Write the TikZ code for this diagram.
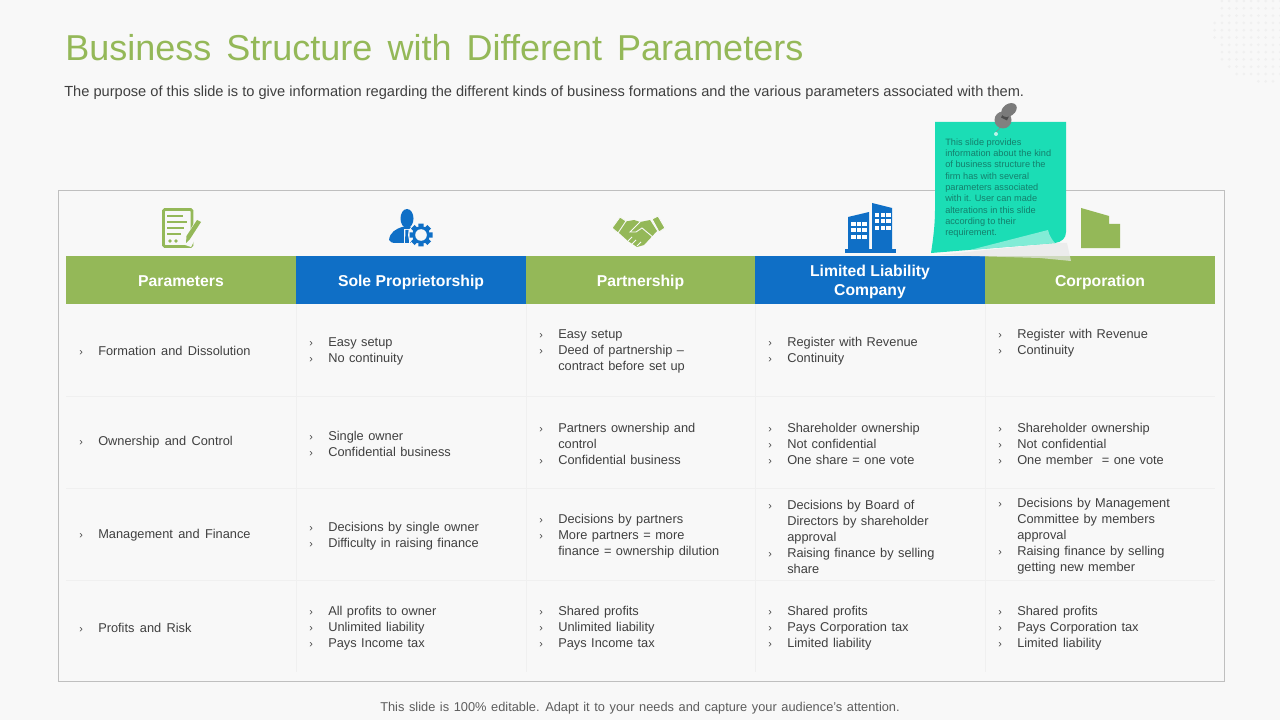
\documentclass[tikz,border=0pt]{standalone}
\usepackage{fontspec}
\setmainfont{Liberation Sans}
\usepackage{xcolor}
\usepackage{tikz}
\usetikzlibrary{calc}
\definecolor{leaf}{HTML}{94B858}
\definecolor{ocean}{HTML}{0F6FC6}
\definecolor{sticky}{HTML}{1BDDB5}
\definecolor{paper}{HTML}{F8F8F8}
\definecolor{ink}{HTML}{404040}
\definecolor{noteink}{HTML}{147F6C}
\newcommand{\bul}[1]{\makebox[14.25pt][l]{\fontsize{8}{12}\selectfont ›}#1}
\newcommand{\cont}[1]{\hspace*{14.25pt}#1}
\newcommand{\cellfont}{\fontsize{9.6}{12}\selectfont\spaceskip=.35em\relax}
\newcommand{\rowfont}{\fontsize{9.6}{12}\selectfont\spaceskip=.42em\relax}
\tikzset{
  hdrbox/.style={fill=#1, text=white, minimum width=172.5pt, minimum height=36pt, inner sep=0pt, align=center, font=\fontsize{11.8}{14.25}\selectfont\bfseries},
  hdrone/.style={hdrbox=#1, text height=9.8pt, text depth=0pt},
  cellbox/.style={anchor=west, inner sep=0pt, yshift=-1.2pt, text=ink, align=left, font=\cellfont},
  rowbox/.style={anchor=west, inner sep=0pt, yshift=-0.5pt, text=ink, align=left, font=\rowfont},
  rowline/.style={draw=black!6, line width=0.6pt},
  notetext/.style={anchor=north west, inner sep=0pt, text=noteink, align=left, font=\fontsize{6.9}{8.45}\selectfont}
}
\begin{document}
\begin{tikzpicture}[x=0.75pt, y=-0.75pt]
\fill[paper] (0,0) rectangle (1280,720);
\useasboundingbox (0,0) rectangle (1280,720);

% dots top right
\foreach \i in {0,...,9}{
  \foreach \j in {0,...,11}{
    \pgfmathsetmacro{\dd}{veclen(1214.6+7.3*\i-1266,1+7.3*\j-30)}
    \ifdim\dd pt<53pt \fill[black!6] (1214.6+7.3*\i,1+7.3*\j) circle (1.5); \fi
  }
}

% title
\node[anchor=west, inner sep=0pt, text=leaf, font=\fontsize{27}{32}\selectfont] (title) at (65,48) {\spaceskip=0.42em Business Structure with Different Parameters};
\node[anchor=west, inner sep=0pt, text=ink, font=\fontsize{10.97}{13}\selectfont] (subtitle) at (64,93) {The purpose of this slide is to give information regarding the different kinds of business formations and the various parameters associated with them.};
\node[inner sep=0pt, text=ink!85, font=\fontsize{9.6}{12}\selectfont] (footer) at (640,708) {\spaceskip=0.36em This slide is 100\% editable. Adapt it to your needs and capture your audience's attention.};

% frame
\draw[black!25, line width=0.6pt] (58,190.5) rectangle (1224,681);

% grid
\draw[rowline] (66,396) -- (1215,396);
\draw[rowline] (66,488) -- (1215,488);
\draw[rowline] (66,580) -- (1215,580);
\draw[rowline] (296,304) -- (296,672);
\draw[rowline] (526,304) -- (526,672);
\draw[rowline] (755,304) -- (755,672);
\draw[rowline] (985,304) -- (985,672);

% header row
\node[hdrone=leaf] (hdrA) at (181,280) {Parameters};
\node[hdrone=ocean] (hdrB) at (411,280) {Sole Proprietorship};
\node[hdrone=leaf] (hdrC) at (640.5,280) {Partnership};
\node[hdrbox=ocean] (hdrD) at (870,280) {\rule{0pt}{11.6pt}Limited Liability\\Company};
\node[hdrone=leaf] (hdrE) at (1100,280) {Corporation};

% cells
\node[rowbox] (a1) at (79,350) {\bul{Formation and Dissolution}};
\node[rowbox] (a2) at (79,442) {\bul{Ownership and Control}};
\node[rowbox] (a3) at (79,535) {\bul{Management and Finance}};
\node[rowbox] (a4) at (79,627) {\bul{Profits and Risk}};

\node[cellbox] (b1) at (309,350) {\bul{Easy setup}\\\bul{No continuity}};
\node[cellbox] (b2) at (309,442) {\bul{Single owner}\\\bul{Confidential business}};
\node[cellbox] (b3) at (309,535) {\bul{Decisions by single owner}\\\bul{Difficulty in raising finance}};
\node[cellbox] (b4) at (309,627) {\bul{All profits to owner}\\\bul{Unlimited liability}\\\bul{Pays Income tax}};

\node[cellbox] (c1) at (539,350) {\bul{Easy setup}\\\bul{Deed of partnership --}\\\cont{contract before set up}};
\node[cellbox] (c2) at (539,442) {\bul{Partners ownership and}\\\cont{control}\\\bul{Confidential business}};
\node[cellbox] (c3) at (539,535) {\bul{Decisions by partners}\\\bul{More partners = more}\\\cont{finance = ownership dilution}};
\node[cellbox] (c4) at (539,627) {\bul{Shared profits}\\\bul{Unlimited liability}\\\bul{Pays Income tax}};

\node[cellbox] (d1) at (768,350) {\bul{Register with Revenue}\\\bul{Continuity}};
\node[cellbox] (d2) at (768,442) {\bul{Shareholder ownership}\\\bul{Not confidential}\\\bul{One share = one vote}};
\node[cellbox] (d3) at (768,535) {\bul{Decisions by Board of}\\\cont{Directors by shareholder}\\\cont{approval}\\\bul{Raising finance by selling}\\\cont{share}};
\node[cellbox] (d4) at (768,627) {\bul{Shared profits}\\\bul{Pays Corporation tax}\\\bul{Limited liability}};

\node[cellbox] (e1) at (998,342) {\bul{Register with Revenue}\\\bul{Continuity}};
\node[cellbox] (e2) at (998,442) {\bul{Shareholder ownership}\\\bul{Not confidential}\\\bul{One member\ \ = one vote}};
\node[cellbox] (e3) at (998,535) {\bul{Decisions by Management}\\\cont{Committee by members}\\\cont{approval}\\\bul{Raising finance by selling}\\\cont{getting new member}};
\node[cellbox] (e4) at (998,627) {\bul{Shared profits}\\\bul{Pays Corporation tax}\\\bul{Limited liability}};

% document icon
\draw[leaf, line width=2.2pt, rounded corners=1pt, fill=paper] (163.5,209.5) rectangle (192,246.5);
\draw[leaf, line width=1.3pt] (167,216) -- (183,216);
\draw[leaf, line width=1.3pt] (167,222) -- (187,222);
\draw[leaf, line width=1.3pt] (167,228) -- (184,228);
\draw[leaf, line width=1.3pt] (167,234) -- (181,234);
\fill[leaf] (170,241) circle (1.8);
\fill[leaf] (176,241) circle (1.8);
\fill[paper] (182,244) -- (197,218) -- (204,222) -- (191,247) -- cycle;
\fill[leaf] (186,243) -- (186.5,236) -- (197,220) -- (201,222) -- (190,239) -- cycle;

% person and gear icon
\fill[ocean] (407,218.5) ellipse (6.5 and 9.5);
\fill[ocean] (389,240) .. controls (390,232) and (396,229) .. (402,227) -- (412,227) .. controls (416,229) and (418,230) .. (419,231) -- (412,243) -- (396,243) .. controls (392,243) and (390,242) .. (389,240) -- cycle;
\fill[paper] (404,229) -- (410,229) -- (410,243) -- (404,243) -- cycle;
\fill[ocean] (405.5,230) -- (408.5,230) -- (409,243) -- (405,243) -- cycle;
\fill[paper] (421,235) circle (13);
\foreach \a in {0,45,...,315}
  \fill[ocean] ($(421,235)+(\a-13:11.8)$) -- ($(421,235)+(\a+13:11.8)$) -- ($(421,235)+(\a+20:7)$) -- ($(421,235)+(\a-20:7)$) -- cycle;
\fill[ocean] (421,235) circle (8.8);
\fill[paper] (421,235) circle (5.8);

% handshake icon
\fill[leaf] (623,222) -- (634,220) -- (640,222) -- (650,220) -- (657,231) -- (644,245) -- (637,247) -- (628,241) -- (618,232) -- cycle;
\draw[paper, line width=0.7pt, fill=leaf] (612,228) -- (620,217) -- (626,221) -- (618,233) -- cycle;
\draw[paper, line width=0.7pt, fill=leaf] (652,219) -- (658,216) -- (665,228) -- (659,232) -- cycle;
\draw[paper, line width=0.7pt] (640,222) -- (630,232) -- (636,232) -- (642,228) -- (654,238);
\draw[paper, line width=0.7pt] (628,241) -- (632,237);
\draw[paper, line width=0.7pt] (632,244) -- (636,240);
\draw[paper, line width=0.7pt] (637,246) -- (641,242);

% building icon
\fill[ocean] (848,217) -- (869,212) -- (869,250) -- (848,250) -- cycle;
\fill[ocean] (872,203) -- (892,208) -- (892,250) -- (872,250) -- cycle;
\fill[ocean] (845,249) rectangle (896,253);
\foreach \px in {851,856.5,862}
  \foreach \py in {222,228.5,235}
    \fill[white] (\px,\py) rectangle +(4.5,4);
\foreach \px in {874.5,880.5,886}
  \foreach \py in {213,219.5,226}
    \fill[white] (\px,\py) rectangle +(4.5,4);

% corporation icon, partly hidden
\fill[leaf] (1081,208) -- (1109,216) -- (1109,224) -- (1120,224) -- (1120,248) -- (1081,248) -- cycle;

% sticky note
\fill[black!9, opacity=0.7] (937,255) -- (1055,243) -- (1067,243) -- (1071,261) -- (1040,258) -- cycle;
\fill[sticky] (935,122) -- (1066,122) -- (1066,232) .. controls (1066,238) and (1062,242) .. (1055,243) -- (931,253) .. controls (933,240) and (935,225) .. (935,210) -- cycle;
\fill[white!45!sticky] (970,250) -- (1048,230) .. controls (1049,235) and (1052,240) .. (1055,243) -- cycle;
\node[notetext] (note) at (945,138.5) {This slide provides\\information about the kind\\of business structure the\\firm has with several\\parameters associated\\with it. User can made\\alterations in this slide\\according to their\\requirement.};

% pin
\draw[black!45, line width=0.5pt] (1001,127) -- (996,132);
\fill[white!70!sticky] (996,134) circle (2);
\fill[black!50] (1003,120) circle (8.5);
\draw[black!70, line width=5pt] (1004,119) -- (1008,111);
\fill[black!52, rotate around={35:(1009,110)}] (1009,110) ellipse (8.5 and 6);
\end{tikzpicture}
\end{document}
